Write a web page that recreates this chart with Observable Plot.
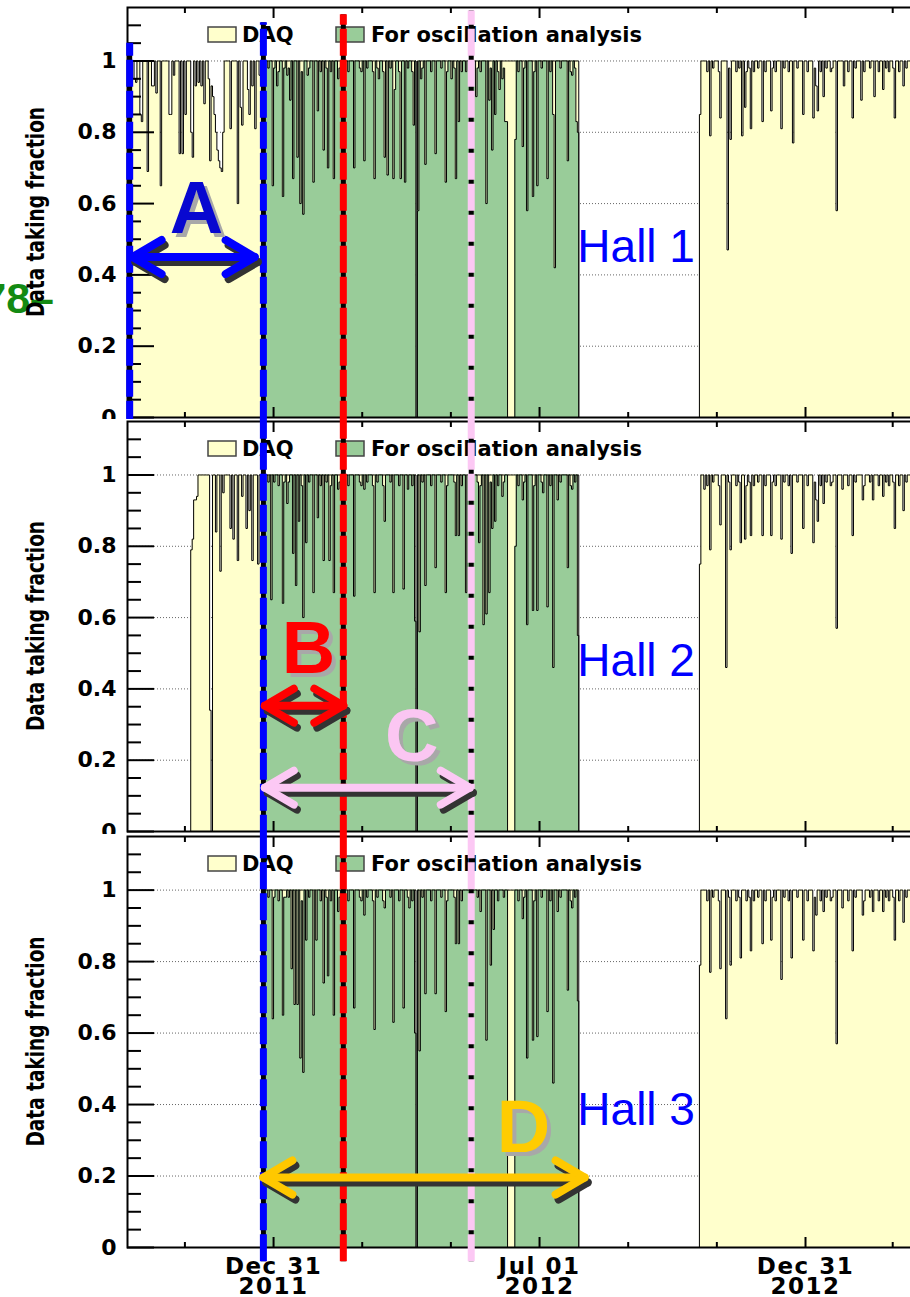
<!DOCTYPE html>
<html>
<head>
<meta charset="utf-8">
<script src="https://cdn.jsdelivr.net/npm/d3@7"></script>
<script src="https://cdn.jsdelivr.net/npm/@observablehq/plot@0.6"></script>
<style>
html, body { margin: 0; padding: 0; background: #fff; overflow: hidden; }
#wrap { position: relative; width: 910px; height: 1297px; overflow: hidden; background: #fff; }
#wrap > svg { position: absolute; left: 0; max-width: none !important; }
</style>
</head>
<body>
<div id="wrap"></div>
<script>
// ---------------- data ----------------
// bins are days counted from dayZero
const dayZero = "2011-09-21";
const lastDay = 552;
const hallNames = ["Hall 1", "Hall 2", "Hall 3"];
const legendLabels = ["DAQ", "For oscillation analysis"];

// Hall 1
const h1DaqRuns = [[0, 310], [394, 552]];
const h1DaqDips = [[5,.95],[6,.94],[9,.85],[10,.83],[14,.69],[17,.93],[18,.93],[20,.91],[23,.65],[29,.85],[30,.85],[32,.96],[36,.74],[38,.74],[40,.85],[44,.80],[45,.73],[47,.93],[49,.94],[51,.93],[53,.88],[56,.95],[57,.72],[58,.93],[59,.90],[60,.85],[61,.80],[62,.75],[63,.72],[64,.70],[65,.69],[66,.80],[71,.81],[76,.60],[78,.87],[79,.82],[83,.92],[84,.85],[86,.93],[88,.81],[91,.96],
  [199,0],
  [394,.85],[401,.79],[408,.84],[413,.47],[415,.78],[423,.79],[425,.87],[429,.81],[437,.83],[443,.86],[450,.81],[458,.77],[465,.85],[472,.84],[475,.86],[479,.90],[488,.58],[493,.93],[499,.84],[505,.89],[514,.90],[520,.92],[528,.84],[534,.93]];
const h1OscRuns = [[94, 261], [267, 310]];
const h1OscDips = [[100,.65],[103,.93],[107,.62],[110,.96],[112,.89],[114,.67],[117,.73],[119,.60],[121,.57],[124,.96],[128,.66],[131,.86],[135,.75],[138,.70],[142,.67],[145,.95],[149,.96],[156,.70],[163,.72],[170,.67],[173,.95],[177,.73],[179,.68],[183,.67],[184,.92],[188,.67],[191,.66],[197,.82],[199,0],[200,.58],[202,.95],[205,.71],[212,.74],[219,.66],[223,.95],[226,.67],[228,.83],[233,.97],[240,.90],[247,.60],[249,.89],[251,.75],[253,.85],[256,.92],[258,.95],[260,.83],[261,.83],[267,.78],[272,.76],[275,.58],[279,.62],[282,.65],[289,.67],[293,.85],[294,.42],[303,.72],[306,.96],[309,.83],[310,.80]];

// Hall 2
const h2DaqRuns = [[44, 310], [394, 552]];
const h2DaqDips = [[44,.79],[45,.82],[46,.93],[47,.93],[48,.94],[57,.34],[58,0],[61,.84],[64,.73],[66,.95],[71,.85],[73,.82],[76,.76],[79,.94],[82,.85],[84,.90],[86,.76],[90,.75],
  [199,0],
  [394,.75],[397,.96],[401,.79],[408,.86],[412,.46],[415,.79],[422,.81],[425,.82],[429,.83],[437,.83],[443,.83],[450,.82],[457,.78],[465,.85],[472,.81],[475,.87],[479,.92],[488,.57],[492,.96],[499,.83],[506,.93],[513,.93],[520,.94],[528,.85],[534,.90]];
const h2OscRuns = [[94, 261], [267, 310]];
const h2OscDips = [[99,.65],[107,.64],[110,.92],[114,.78],[116,.69],[118,.87],[121,.60],[123,.81],[128,.67],[131,.88],[135,.76],[139,.76],[142,.67],[145,.96],[156,.66],[163,.96],[170,.67],[177,.87],[183,.67],[190,.68],[193,.96],[198,.59],[199,0],[201,.56],[205,.69],[212,.74],[219,.67],[226,.83],[228,.83],[233,.67],[242,.81],[245,.58],[247,.61],[249,.67],[251,.85],[253,.87],[258,.94],[267,.80],[272,.93],[275,.58],[279,.62],[282,.62],[286,.95],[289,.63],[293,.46],[296,.93],[303,.74],[306,.96],[310,.55]];

// Hall 3
const h3DaqRuns = [[94, 310], [394, 552]];
const h3DaqDips = [[199,0],
  [394,.79],[401,.77],[408,.78],[412,.64],[415,.79],[422,.81],[429,.83],[437,.85],[443,.86],[450,.75],[457,.81],[465,.86],[472,.83],[479,.94],[488,.57],[492,.95],[499,.83],[506,.93],[513,.94],[520,.94],[528,.86],[534,.91]];
const h3OscRuns = [[94, 261], [267, 310]];
const h3OscDips = [[100,.64],[107,.65],[109,.98],[113,.78],[115,.68],[117,.68],[119,.53],[121,.49],[123,.86],[128,.65],[130,.86],[135,.74],[138,.76],[142,.65],[145,.94],[149,.78],[156,.67],[163,.93],[170,.61],[177,.95],[183,.63],[190,.67],[194,.95],[198,.60],[199,0],[201,.55],[205,.71],[212,.71],[219,.66],[226,.85],[228,.85],[243,.94],[247,.58],[250,.79],[252,.89],[272,.92],[275,.53],[279,.58],[282,.59],[289,.66],[293,.46],[296,.94],[303,.72],[306,.95],[310,.69]];

const oscNotches = [[97,.98],[101,.98],[104,.97],[108,.98],[111,.98],[120,.97],[125,.98],[133,.97],[137,.98],[140,.97],[146,.98],[152,.97],[160,.98],[161,.97],[165,.98],[169,.97],[172,.98],[176,.97],[181,.98],[187,.97],[193,.98],[196,.97],[203,.98],[209,.97],[216,.98],[220,.97],[225,.98],[230,.97],[241,.98],[243,.97],[250,.98],[255,.97],[259,.98],[269,.97],[273,.98],[280,.97],[285,.98],[291,.97],[298,.98],[305,.97],[308,.98]];
const laterNotches = [[399,.97],[403,.98],[407,.97],[414,.98],[419,.97],[421,.98],[426,.97],[428,.98],[431,.97],[434,.98],[439,.97],[444,.98],[446,.97],[452,.98],[455,.97],[461,.98],[468,.97],[473,.98],[474,.93],[477,.97],[481,.98],[484,.97],[485,.98],[496,.97],[501,.98],[507,.97],[511,.98],[517,.97],[522,.98],[524,.97],[527,.98],[531,.97],[536,.98]];

// axis ticks
const yMajorTicks = [0, 0.2, 0.4, 0.6, 0.8, 1];
const yMinorTicks = [0.05,0.1,0.15,0.25,0.3,0.35,0.45,0.5,0.55,0.65,0.7,0.75,0.85,0.9,0.95,1.05,1.1];
const yGridValues = [0.2, 0.4, 0.6, 0.8, 1];
const xMajorTicks = ["2011-12-31", "2012-07-01", "2012-12-31"];
const xMinorTicks = ["2011-10-31", "2012-03-01", "2012-05-01", "2012-08-31", "2012-10-31", "2013-03-01"];

// period boundaries (dashed lines)
const phaseDates = ["2011-09-23", "2011-12-24", "2012-02-17", "2012-05-15"];
const phaseColors = ["#0000ff", "#0000ff", "#ff0000", "#fcc8f4"];

// period arrows
const arrowLabels = ["A", "B", "C", "D"];
const arrowFrom = ["2011-09-25", "2011-12-25", "2011-12-25", "2011-12-24"];
const arrowTo = ["2011-12-18", "2012-02-17", "2012-05-14", "2012-08-01"];
const arrowHall = [0, 1, 1, 2];
const arrowColors = ["#0000ff", "#ff0000", "#fcc8f4", "#ffc800"];
const letterColors = ["#0808d0", "#ff0000", "#fbc6f2", "#ffcc00"];

// ---------------- layout (annotation placement) ----------------
const arrowLevel = [0.45, 0.353, 0.123, 0.196];
const letterDate = ["2011-11-08", "2012-01-24", "2012-04-04", "2012-06-20"];
const letterLevel = [0.517, 0.445, 0.199, 0.266];
const hallLabelDate = "2012-07-27";
const hallLabelLevel = [0.435, 0.437, 0.342];

const daqColor = "#ffffcc";
const oscColor = "#99cc99";

const day0 = new Date(dayZero + "T00:00Z");
const dayDate = d => d3.utcDay.offset(day0, d);
const P = s => new Date(s + (s.length === 10 ? "T00:00Z" : "Z"));

function buildSeries(runs, dips) {
  const m = new Map(dips);
  const out = [];
  for (let d = 0; d <= lastDay; d++) {
    const inRun = runs.some(([a, b]) => d >= a && d <= b);
    out.push({date: dayDate(d), v: inRun ? (m.has(d) ? m.get(d) : 1) : 0});
  }
  out.push({date: dayDate(lastDay + 1), v: 0});
  return out;
}

const daqRuns = [h1DaqRuns, h2DaqRuns, h3DaqRuns];
const daqDips = [h1DaqDips, h2DaqDips, h3DaqDips].map(d => [...laterNotches, ...d]);
const oscRuns = [h1OscRuns, h2OscRuns, h3OscRuns];
const oscDips = [h1OscDips, h2OscDips, h3OscDips].map(d => [...oscNotches, ...d]);

function chevron(orient) {
  return (color) => {
    const m = d3.create("svg:marker")
      .attr("viewBox", "-40 -30 60 60")
      .attr("markerWidth", 60).attr("markerHeight", 60)
      .attr("markerUnits", "userSpaceOnUse")
      .attr("orient", orient)
      .attr("overflow", "visible");
    m.append("path").attr("d", "M-29,-17L0,0L-29,17")
      .attr("fill", "none").attr("stroke", color).attr("stroke-width", 8)
      .attr("stroke-linecap", "round").attr("stroke-linejoin", "round");
    return m.node();
  };
}

const layouts = [
  {top: 0, mt: 7, mb: 13, lineTops: [1.05, 1.107, 1.13, 1.14], lineBottom: -0.03},
  {top: 419, mt: 2, mb: 13, lineTops: [null, 1.17, 1.17, 1.17], lineBottom: -0.03},
  {top: 834, mt: 2, mb: 50, plotH: 411, lineTops: [null, 1.17, 1.17, 1.17], lineBottom: -0.04}
];

const wrap = document.getElementById("wrap");
const fmtTick = d => d3.utcFormat("%b %d")(d) + "\n" + d3.utcFormat("%Y")(d);

layouts.forEach((L, i) => {
  const plotH = L.plotH || 410;
  const daq = buildSeries(daqRuns[i], daqDips[i]);
  const osc = buildSeries(oscRuns[i], oscDips[i]);

  const lines = phaseDates.map((d, k) => ({date: P(d), color: phaseColors[k], top: L.lineTops[k]}))
    .filter(l => l.top != null);
  const arrows = arrowLabels.map((lab, k) => ({lab, k, from: P(arrowFrom[k]), to: P(arrowTo[k]), level: arrowLevel[k],
    color: arrowColors[k], lcolor: letterColors[k], ldate: P(letterDate[k]), llevel: letterLevel[k]}))
    .filter(a => arrowHall[a.k] === i);

  const marks = [
    Plot.ruleY(yGridValues, {stroke: "#666", strokeWidth: 1, strokeDasharray: "1,2"}),
    Plot.areaY(daq, {x: "date", y: "v", curve: "step-after", fill: daqColor, clip: true}),
    Plot.lineY(daq, {x: "date", y: "v", curve: "step-after", stroke: "black", strokeWidth: 1, clip: true}),
    Plot.areaY(osc, {x: "date", y: "v", curve: "step-after", fill: oscColor, clip: true}),
    Plot.lineY(osc, {x: "date", y: "v", curve: "step-after", stroke: "black", strokeWidth: 1, clip: true}),
    Plot.frame({stroke: "black", strokeWidth: 2}),
    Plot.axisY(yMajorTicks, {anchor: "left", tickSize: -27, fill: "none", label: null, strokeWidth: 2}),
    Plot.axisY(yMinorTicks, {anchor: "left", tickSize: -14, fill: "none", label: null, strokeWidth: 2}),
    Plot.axisY(yMajorTicks, {anchor: "left", tickSize: 0, tickPadding: 11, label: null,
      tickFormat: d => String(+d.toFixed(1)), fontSize: 22, fontWeight: "bold", fontFamily: "DejaVu Sans"}),
    Plot.axisX(xMajorTicks.map(P), {anchor: "bottom", tickSize: -10, fill: "none", label: null, strokeWidth: 2}),
    Plot.axisX(xMinorTicks.map(P), {anchor: "bottom", tickSize: -5, fill: "none", label: null, strokeWidth: 2}),
    Plot.axisX(xMajorTicks.map(P), {anchor: "top", tickSize: -10, fill: "none", label: null, strokeWidth: 2}),
    Plot.axisX(xMinorTicks.map(P), {anchor: "top", tickSize: -5, fill: "none", label: null, strokeWidth: 2}),
    // legend
    (index, scales, values, dims) => {
      const t = dims.marginTop;
      const g = d3.create("svg:g").attr("font-family", "DejaVu Sans").attr("font-weight", "bold")
        .attr("font-size", 21).attr("fill", "black").attr("text-anchor", "start");
      g.append("rect").attr("x", 208).attr("y", t + 20).attr("width", 28).attr("height", 15).attr("fill", daqColor).attr("stroke", "#444").attr("stroke-width", 1.5);
      g.append("text").attr("x", 242).attr("y", t + 35).text(legendLabels[0]);
      g.append("rect").attr("x", 336).attr("y", t + 20).attr("width", 28).attr("height", 15).attr("fill", oscColor).attr("stroke", "#444").attr("stroke-width", 1.5);
      g.append("text").attr("x", 371).attr("y", t + 35).text(legendLabels[1]);
      return g.node();
    },
    // y title (and stray slide number on the first panel)
    (index, scales, values, dims) => {
      const g = d3.create("svg:g");
      const cy = dims.marginTop + (dims.height - dims.marginTop - dims.marginBottom) / 2;
      if (i === 0) {
        g.append("text").attr("x", 54).attr("y", 313).attr("text-anchor", "end")
          .attr("font-family", "'Liberation Sans Narrow', 'Liberation Sans'").attr("font-weight", "bold")
          .attr("font-size", 43).attr("fill", "#138a13").text("78–");
      }
      g.append("text").attr("transform", `translate(44,${cy}) rotate(-90) scale(1,1.35)`)
        .attr("text-anchor", "middle").attr("font-family", "DejaVu Sans").attr("font-weight", "bold")
        .attr("font-size", 18.5).attr("fill", "black").text("Data taking fraction");
      return g.node();
    },
    // dashed period lines
    Plot.ruleX(lines, {x: "date", y1: L.lineBottom, y2: "top", stroke: "black", strokeWidth: 5}),
    ...lines.map(l => Plot.ruleX([l], {x: "date", y1: L.lineBottom, y2: "top", stroke: l.color, strokeWidth: 7, strokeDasharray: "27,4"})),
    // arrows (shadow then colour)
    ...arrows.flatMap(a => [
      Plot.link([a], {x1: "from", x2: "to", y1: "level", y2: "level", stroke: "#333", strokeWidth: 8, dx: 3, dy: 5,
        strokeLinecap: "round", markerStart: chevron("auto-start-reverse"), markerEnd: chevron("auto")}),
      Plot.link([a], {x1: "from", x2: "to", y1: "level", y2: "level", stroke: a.color, strokeWidth: 8,
        strokeLinecap: "round", markerStart: chevron("auto-start-reverse"), markerEnd: chevron("auto")}),
      Plot.text([a], {x: "ldate", y: "llevel", text: "lab", fill: "#a8a8a8", dx: 4, dy: 4, lineAnchor: "bottom",
        fontSize: 74, fontWeight: "bold", fontFamily: "Liberation Sans"}),
      Plot.text([a], {x: "ldate", y: "llevel", text: "lab", fill: a.lcolor, lineAnchor: "bottom",
        fontSize: 74, fontWeight: "bold", fontFamily: "Liberation Sans"})
    ]),
    Plot.text([{date: P(hallLabelDate), v: hallLabelLevel[i], label: hallNames[i]}],
      {x: "date", y: "v", text: "label", textAnchor: "start", lineAnchor: "bottom",
       fontSize: 46, fontFamily: "Liberation Sans", fill: "#0000ff"})
  ];
  if (i === 2) {
    marks.push(Plot.axisX(xMajorTicks.map(P), {anchor: "bottom", tickSize: 0, tickPadding: 12, label: null,
      tickFormat: fmtTick, fontSize: 23, fontWeight: "bold", fontFamily: "DejaVu Sans", lineHeight: 0.88}));
  }

  const svg = Plot.plot({
    width: 930,
    height: L.mt + plotH + L.mb,
    marginLeft: 127, marginRight: 0, marginTop: L.mt, marginBottom: L.mb,
    x: {type: "utc", domain: [P("2011-09-21T12:00"), P("2013-03-27")]},
    y: {domain: [0, 1.15]},
    style: {background: "white", fontFamily: "DejaVu Sans", color: "black", maxWidth: "none"},
    marks
  });
  svg.style.top = L.top + "px";
  svg.style.maxWidth = "none";
  if (i === 2) {
    d3.select(svg).selectAll("text")
      .filter(function() { return /20\d\d/.test(this.textContent) && /[A-Z][a-z]{2}/.test(this.textContent); })
      .attr("letter-spacing", 1.5);
  }
  wrap.appendChild(svg);
});
</script>
</body>
</html>
